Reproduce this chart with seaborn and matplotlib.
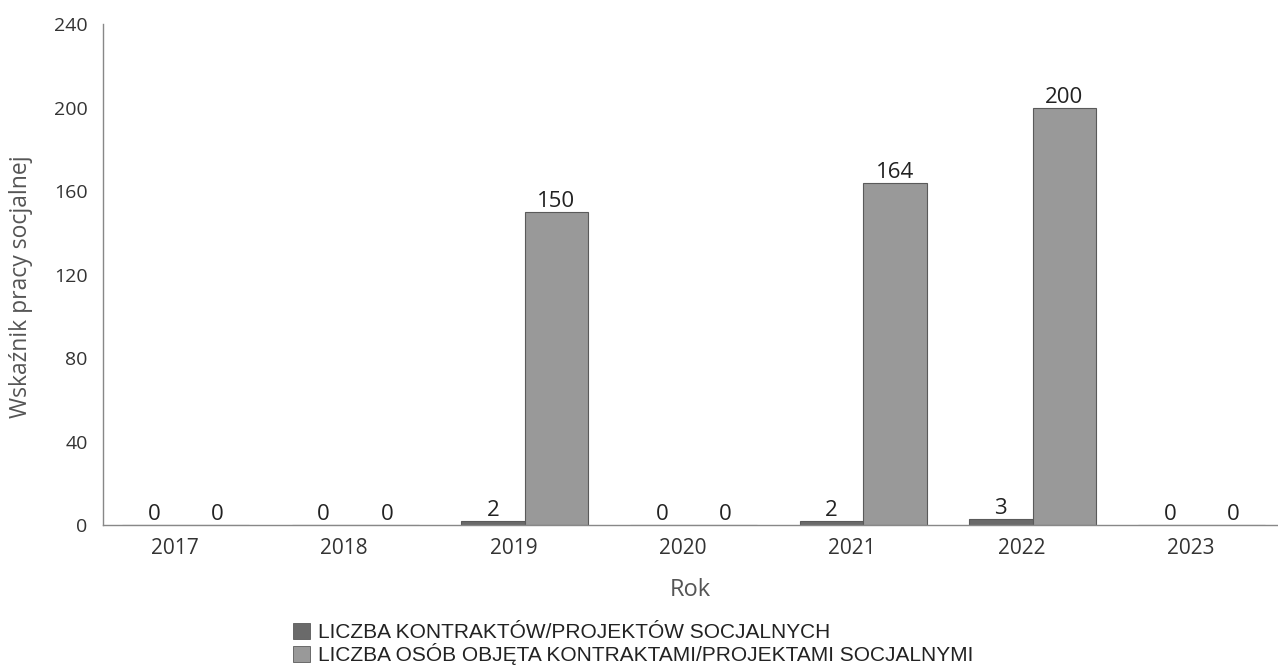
import matplotlib
matplotlib.use("Agg")
import matplotlib.pyplot as plt
import matplotlib.transforms as mtransforms
from matplotlib.patches import Patch
import seaborn as sns
import pandas as pd

years = ["2017", "2018", "2019", "2020", "2021", "2022", "2023"]
contracts = [0, 0, 2, 0, 2, 3, 0]
persons = [0, 0, 150, 0, 164, 200, 0]
series_names = ["LICZBA KONTRAKTÓW/PROJEKTÓW SOCJALNYCH",
                "LICZBA OSÓB OBJĘTA KONTRAKTAMI/PROJEKTAMI SOCJALNYMI"]
y_ticks = [0, 40, 80, 120, 160, 200, 240]

df = pd.DataFrame({
    "Rok": years * 2,
    "value": contracts + persons,
    "series": [series_names[0]] * len(years) + [series_names[1]] * len(years),
})

sns.set_theme(style="white")
plt.rcParams["font.family"] = ["Open Sans", "DejaVu Sans"]

colors = ["#6a6a6a", "#999999"]
fig = plt.figure(figsize=(12.78, 6.68), dpi=100)
ax = fig.add_axes([0.0806, 0.214, 0.9194, 0.750])

sns.barplot(data=df, x="Rok", y="value", hue="series", order=years,
            hue_order=series_names, palette=colors, width=0.75,
            edgecolor="#5a5a5a", linewidth=0.8, ax=ax, legend=False)

for cont in ax.containers:
    ax.bar_label(cont, fmt="%d", padding=0, fontsize=16, color="#222222")

ax.set_ylim(0, 240)
ax.set_yticks(y_ticks)
ax.set_xlim(-0.49, 6.45)
ax.set_ylabel("Wskaźnik pracy socjalnej", fontsize=16.5, color="#555555")
ax.yaxis.set_label_coords(-0.0595, 0.475)
ax.set_xlabel("Rok", fontsize=17, color="#555555", labelpad=14)
ax.tick_params(axis="x", labelsize=15, colors="#333333", length=0, pad=9)
ax.tick_params(axis="y", labelsize=14, colors="#333333", length=0, pad=11)
for lab in ax.get_xticklabels():
    lab.set_transform(lab.get_transform() + mtransforms.ScaledTranslation(-0.11, 0, fig.dpi_scale_trans))

for s in ["top", "right"]:
    ax.spines[s].set_visible(False)
for s in ["left", "bottom"]:
    ax.spines[s].set_color("#888888")
    ax.spines[s].set_linewidth(1.0)

handles = [Patch(facecolor=c, edgecolor="#5a5a5a", linewidth=0.6) for c in colors]
leg = fig.legend(handles, series_names, loc="upper left",
                 bbox_to_anchor=(0.229, 0.068), frameon=False,
                 prop={"family": ["Liberation Sans", "DejaVu Sans"], "size": 15},
                 handlelength=0.85, handleheight=0.8, handletextpad=0.35,
                 labelspacing=0.05, borderpad=0, borderaxespad=0)
for t in leg.get_texts():
    t.set_color("#222222")

fig.savefig("out.png", dpi=100)
